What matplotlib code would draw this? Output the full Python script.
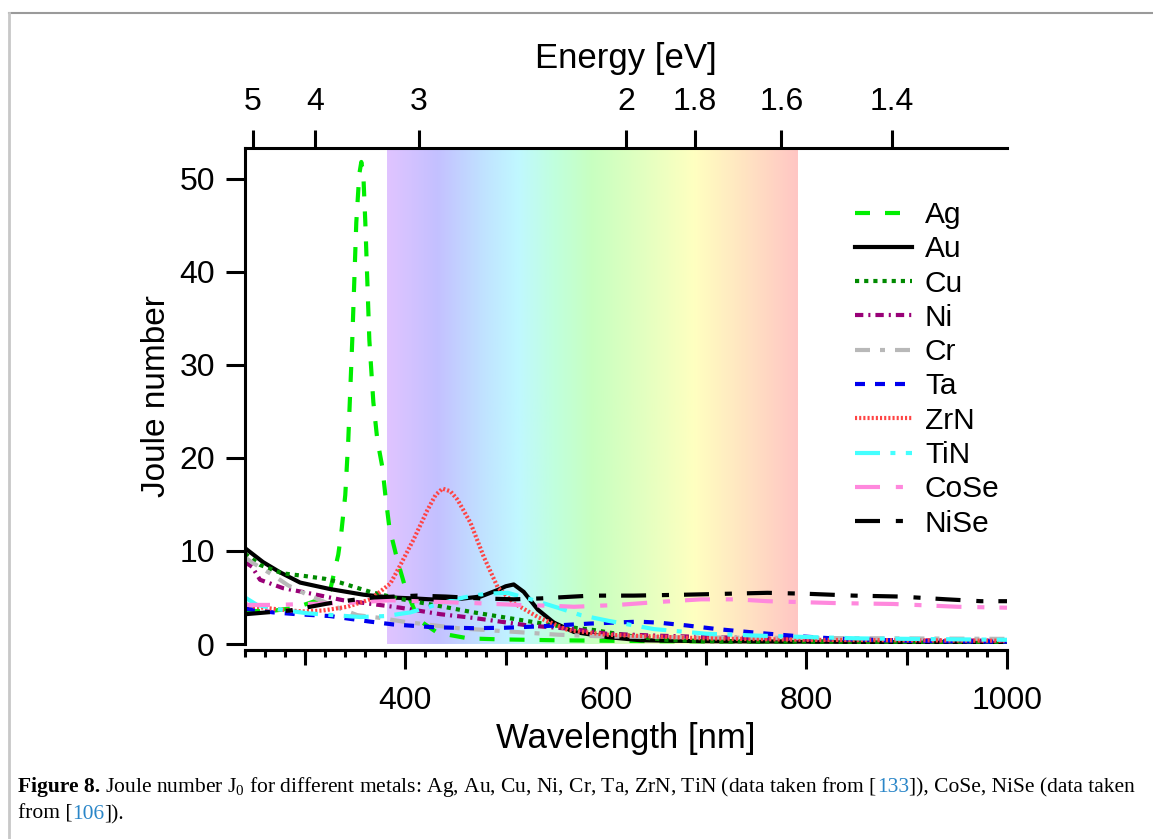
import numpy as np
import matplotlib
matplotlib.use("Agg")
import matplotlib.pyplot as plt
from matplotlib.colors import LinearSegmentedColormap
from matplotlib.lines import Line2D
from matplotlib.ticker import MultipleLocator

plt.rcParams['font.family'] = 'Liberation Sans'
plt.rcParams['mathtext.fontset'] = 'custom'
plt.rcParams['mathtext.rm'] = 'Liberation Serif'

# ---- data ----
ag_wl = [240, 270, 290, 307, 318, 325, 333, 336, 340, 343, 347, 351, 354, 356, 358, 360, 364, 368, 372, 377, 380, 384,
         392, 400, 413, 432, 463, 493, 550, 650, 800, 1000]
ag_j = [3.5, 3.6, 3.9, 4.5, 5.0, 5.8, 9.6, 11.9, 16, 21.9, 32.7, 45.3, 50.5, 51.8, 50.5, 45.3, 32.7, 26, 21.9, 19, 16, 12.5,
        9, 6, 2.6, 1.2, 0.6, 0.5, 0.4, 0.3, 0.25, 0.2]

au_wl = [240, 258, 275, 295, 325, 358, 385, 408, 442, 475, 492, 500, 508, 518, 532, 548, 568, 601, 635, 700, 800, 900, 1000]
au_j = [10.3, 8.8, 7.7, 6.6, 5.9, 5.3, 5.0, 4.9, 4.7, 5.1, 5.8, 6.2, 6.4, 5.6, 3.7, 2.3, 1.3, 0.75, 0.4, 0.3, 0.25, 0.2, 0.2]

cu_wl = [240, 255, 277, 300, 320, 335, 365, 392, 428, 468, 508, 548, 588, 628, 660, 700, 800, 900, 1000]
cu_j = [9.7, 8.5, 7.6, 7.3, 7.0, 6.6, 5.6, 4.9, 4.2, 3.4, 2.7, 2.0, 1.5, 0.8, 0.45, 0.3, 0.25, 0.2, 0.2]

ni_wl = [240, 247, 255, 278, 302, 338, 395, 435, 468, 522, 568, 601, 650, 700, 800, 900, 1000]
ni_j = [8.8, 8.3, 6.9, 6.0, 5.5, 4.7, 3.9, 3.2, 2.8, 2.0, 1.6, 1.1, 0.9, 0.75, 0.5, 0.4, 0.35]

cr_wl = [240, 248, 268, 283, 302, 335, 352, 375, 398, 452, 495, 552, 602, 700, 800, 900, 1000]
cr_j = [9.3, 8.7, 7.4, 6.3, 5.3, 3.8, 3.1, 2.8, 2.4, 1.7, 1.4, 1.0, 0.8, 0.7, 0.65, 0.6, 0.55]

ta_wl = [240, 268, 292, 325, 365, 388, 428, 468, 500, 535, 585, 632, 652, 680, 711, 751, 790, 834, 880, 926, 1000]
ta_j = [3.8, 3.4, 3.2, 3.0, 2.4, 2.1, 1.8, 1.7, 1.75, 1.9, 2.2, 2.4, 2.3, 2.0, 1.6, 1.2, 0.85, 0.55, 0.4, 0.3, 0.25]

zrn_wl = [240, 250, 275, 297, 318, 342, 365, 385, 395, 408, 422, 430, 437, 445, 452, 465, 478, 492, 508, 532, 562, 600,
          650, 700, 800, 900, 1000]
zrn_j = [4.3, 4.0, 3.7, 3.5, 3.6, 4.0, 4.8, 6.5, 8.5, 11.2, 14.4, 16, 16.7, 16.4, 15.5, 13, 9.4, 6.1, 4.4, 2.9, 1.5, 1.0,
         0.8, 0.6, 0.45, 0.4, 0.35]

tin_wl = [240, 252, 275, 302, 355, 380, 405, 430, 458, 480, 502, 525, 552, 575, 602, 648, 701, 751, 800, 854, 903, 950, 1000]
tin_j = [5.0, 4.2, 3.7, 3.3, 2.9, 3.0, 3.4, 4.2, 5.0, 5.4, 5.5, 4.8, 3.9, 3.1, 2.5, 1.6, 1.1, 0.9, 0.75, 0.6, 0.55, 0.5, 0.45]

cose_wl = [240, 270, 300, 340, 385, 410, 468, 512, 548, 568, 612, 650, 695, 730, 761, 828, 887, 951, 1000]
cose_j = [4.2, 4.2, 4.3, 4.4, 4.7, 4.6, 4.4, 4.2, 4.1, 4.0, 4.2, 4.5, 4.8, 4.8, 4.6, 4.4, 4.3, 4.0, 3.9]

nise_wl = [240, 262, 285, 305, 325, 345, 368, 390, 412, 440, 475, 508, 535, 585, 628, 680, 721, 761, 800, 847, 893, 940,
           974, 1000]
nise_j = [3.2, 3.4, 3.6, 4.0, 4.4, 4.7, 5.0, 5.1, 5.2, 5.1, 4.9, 4.8, 4.9, 5.2, 5.2, 5.3, 5.4, 5.5, 5.4, 5.2, 5.1, 4.8,
          4.6, 4.6]

labels = ["Ag", "Au", "Cu", "Ni", "Cr", "Ta", "ZrN", "TiN", "CoSe", "NiSe"]
energy_ticks = [5, 4, 3, 2, 1.8, 1.6, 1.4]
energy_labels = ["5", "4", "3", "2", "1.8", "1.6", "1.4"]

# ---- styles ----
colors = ['#00ee00', 'black', '#008a00', '#990077', '#b8b8b8', '#0000ee', '#ff4444', '#44ffff', '#ff88dd', 'black']
dashes = [(3.6, 3.6), None, (1, 1.2), (2, 1.2, 0.5, 1.2), (3.6, 2.4, 1.2, 2.4), (2.4, 2.4), (0.5, 0.5),
          (6, 2.5, 1.2, 2.5), (6, 3.8, 1.7, 3.6), (6, 3.8, 1.7, 3.6)]
series = [(ag_wl, ag_j), (au_wl, au_j), (cu_wl, cu_j), (ni_wl, ni_j), (cr_wl, cr_j), (ta_wl, ta_j),
          (zrn_wl, zrn_j), (tin_wl, tin_j), (cose_wl, cose_j), (nise_wl, nise_j)]

W, H = 1153, 839
fig = plt.figure(figsize=(W / 100, H / 100), dpi=100)
ax = fig.add_axes([245 / W, 1 - 644 / H, 762 / W, 496 / H])
YMAX = 53.3

# visible-spectrum band
band = LinearSegmentedColormap.from_list('band', [
    (0.00, '#e0c4ff'), (0.12, '#c4c0ff'), (0.24, '#c0e4ff'), (0.32, '#c0f8ff'),
    (0.40, '#c0ffe0'), (0.50, '#c8ffc0'), (0.63, '#e4ffc0'), (0.75, '#ffffc0'),
    (0.88, '#ffe2c2'), (1.00, '#ffc6c4')])
ax.imshow(np.linspace(0, 1, 256)[None, :], cmap=band, extent=[382, 791, 0, YMAX], aspect='auto', zorder=0)

for (wl, j), lab, c, d in zip(series, labels, colors, dashes):
    if d is None:
        ax.plot(wl, j, color=c, lw=3, label=lab, zorder=2)
    else:
        ax.plot(wl, j, color=c, lw=3, dashes=d, label=lab, zorder=2)

ax.set_xlim(240, 1000)
ax.set_ylim(0, YMAX)

for s in ['top', 'right']:
    ax.spines[s].set_visible(False)
for s in ['left', 'bottom']:
    ax.spines[s].set_linewidth(2.2)
ax.spines['bottom'].set_position(('outward', 4.3))

ax.set_xticks([400, 600, 800, 1000])
ax.xaxis.set_minor_locator(MultipleLocator(20))
ax.set_yticks([0, 10, 20, 30, 40, 50])
ax.tick_params(axis='x', which='major', length=14, width=2.2, labelsize=23, pad=12)
ax.tick_params(axis='x', which='minor', length=5, width=2.2)
ax.tick_params(axis='y', which='major', length=13.7, width=2.2, labelsize=23, pad=8)

# medium ticks at the odd hundreds
mid = ax.secondary_xaxis('bottom')
mid.set_xticks([300, 500, 700, 900])
mid.tick_params(length=11, width=2.2, labelbottom=False)
mid.spines['bottom'].set_position(('outward', 4.3))
mid.spines['bottom'].set_linewidth(2.2)


def nm_to_ev(x):
    x = np.asarray(x, dtype=float)
    with np.errstate(divide='ignore'):
        return 1239.84 / x


top = ax.secondary_xaxis('top', functions=(nm_to_ev, nm_to_ev))
top.set_xticks(energy_ticks, labels=energy_labels)
top.tick_params(length=13, width=2.2, labelsize=23, pad=9)
top.spines['top'].set_linewidth(2.2)
top.set_xlabel('Energy [eV]', fontsize=25, labelpad=14)

ax.set_xlabel('Wavelength [nm]', fontsize=25)
ax.xaxis.set_label_coords(0.5, -0.157)
ax.set_ylabel('Joule number', fontsize=24)
ax.yaxis.set_label_coords(-0.096, 0.5)

fs = 21.5
ax.legend(loc='upper left', bbox_to_anchor=(0.8005, 0.893), frameon=False, fontsize=fs,
          handlelength=41 / fs, handletextpad=9.4 / fs, labelspacing=0.21, borderpad=0, borderaxespad=0)

# page frame
fig.add_artist(Line2D([9 / W, 1], [1 - 13 / H] * 2, color='#9a9a9a', lw=1.5, transform=fig.transFigure))
fig.add_artist(Line2D([9 / W] * 2, [0, 1 - 13 / H], color='#c8c8c8', lw=2, transform=fig.transFigure))

# caption
renderer = fig.canvas.get_renderer()
link = '#2a86c8'


def put_runs(x_px, y_px, runs, size=15.5):
    for s, c, w in runs:
        t = fig.text(x_px / W, 1 - y_px / H, s, color=c, fontsize=size, fontweight=w,
                     family='Liberation Serif', va='baseline', ha='left')
        x_px += t.get_window_extent(renderer).width


put_runs(18, 792, [("Figure 8.", 'black', 'bold'),
                   (" Joule number J$_0$ for different metals: Ag, Au, Cu, Ni, Cr, Ta, ZrN, TiN (data taken from [",
                    'black', 'normal'),
                   ("133", link, 'normal'),
                   ("]), CoSe, NiSe (data taken", 'black', 'normal')])
put_runs(18, 819, [("from [", 'black', 'normal'), ("106", link, 'normal'), ("]).", 'black', 'normal')])

fig.savefig('out.png', dpi=100)
